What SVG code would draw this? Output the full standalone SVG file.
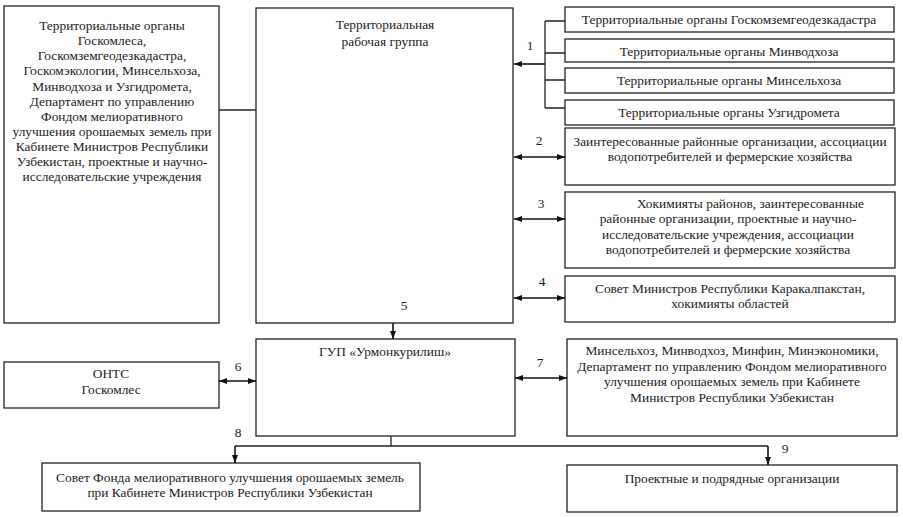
<svg xmlns="http://www.w3.org/2000/svg" width="903" height="517" viewBox="0 0 903 517">
<defs>
<style>
.box{fill:#fff;stroke:#222;stroke-width:1.3}
.ln{fill:none;stroke:#222;stroke-width:1.3}
.ar{fill:none;stroke:#111;stroke-width:1.6}
text{font-family:"Liberation Serif","Times New Roman",serif;font-size:13.4px;fill:#1a1a1a}
.c{text-anchor:middle}
</style>
<marker id="ah" viewBox="0 0 8 6" refX="8" refY="3" markerWidth="8" markerHeight="6" markerUnits="userSpaceOnUse" orient="auto-start-reverse">
<path d="M0,0 L8,3 L0,6 Z" fill="#111"/>
</marker>
</defs>
<rect width="903" height="517" fill="#fff"/>

<g id="left-orgs">
<rect class="box" x="4" y="6" width="215" height="317"/>
<text class="c" x="112" y="30">Территориальные органы</text>
<text class="c" x="112" y="45">Госкомлеса,</text>
<text class="c" x="112" y="60">Госкомземгеодезкадастра,</text>
<text class="c" x="112" y="75">Госкомэкологии, Минсельхоза,</text>
<text class="c" x="112" y="90.5">Минводхоза и Узгидромета,</text>
<text class="c" x="112" y="105.5">Департамент по управлению</text>
<text class="c" x="112" y="120.5">Фондом мелиоративного</text>
<text class="c" x="112" y="135.5">улучшения орошаемых земель при</text>
<text class="c" x="112" y="150.5">Кабинете Министров Республики</text>
<text class="c" x="112" y="166">Узбекистан, проектные и научно-</text>
<text class="c" x="112" y="181">исследовательские учреждения</text>
</g>

<g id="work-group">
<rect class="box" x="256" y="8" width="257" height="315"/>
<text class="c" x="385" y="29">Территориальная</text>
<text class="c" x="385" y="46">рабочая группа</text>
</g>

<g id="r1">
<rect class="box" x="565" y="7" width="329" height="25"/>
<text class="c" x="729" y="24">Территориальные органы Госкомземгеодезкадастра</text>
</g>
<g id="r2">
<rect class="box" x="565" y="39" width="329" height="23"/>
<text class="c" x="729" y="55.5">Территориальные органы Минводхоза</text>
</g>
<g id="r3">
<rect class="box" x="565" y="68" width="329" height="25"/>
<text class="c" x="729" y="84.5">Территориальные органы Минсельхоза</text>
</g>
<g id="r4">
<rect class="box" x="565" y="100" width="329" height="25"/>
<text class="c" x="729" y="116.5">Территориальные органы Узгидромета</text>
</g>

<g id="r5">
<rect class="box" x="565" y="128" width="330" height="57"/>
<text class="c" x="730" y="145.5">Заинтересованные районные организации, ассоциации</text>
<text class="c" x="730" y="160.5">водопотребителей и фермерские хозяйства</text>
</g>

<g id="r6">
<rect class="box" x="565" y="192" width="330" height="76"/>
<text x="637" y="207.5">Хокимияты районов, заинтересованные</text>
<text class="c" x="728" y="223">районные организации, проектные и научно-</text>
<text class="c" x="728" y="238.5">исследовательские учреждения, ассоциации</text>
<text class="c" x="728" y="253.5">водопотребителей и фермерские хозяйства</text>
</g>

<g id="r7">
<rect class="box" x="565" y="276" width="330" height="46"/>
<text class="c" x="730" y="292.5">Совет Министров Республики Каракалпакстан,</text>
<text class="c" x="730" y="307.5">хокимияты областей</text>
</g>

<g id="gup">
<rect class="box" x="256" y="339" width="259" height="97"/>
<text class="c" x="385" y="356">ГУП «Урмонкурилиш»</text>
</g>

<g id="onts">
<rect class="box" x="4" y="362" width="215" height="46"/>
<text class="c" x="111" y="377.5">ОНТС</text>
<text class="c" x="111" y="393.5">Госкомлес</text>
</g>

<g id="ministries">
<rect class="box" x="567" y="339" width="330" height="97"/>
<text class="c" x="732" y="355">Минсельхоз, Минводхоз, Минфин, Минэкономики,</text>
<text class="c" x="732" y="370.5">Департамент по управлению Фондом мелиоративного</text>
<text class="c" x="732" y="386">улучшения орошаемых земель при Кабинете</text>
<text class="c" x="732" y="401.5">Министров Республики Узбекистан</text>
</g>

<g id="fund-council">
<rect class="box" x="42" y="463" width="378" height="48"/>
<text class="c" x="230" y="481.5">Совет Фонда мелиоративного улучшения орошаемых земель</text>
<text class="c" x="230" y="496.5">при Кабинете Министров Республики Узбекистан</text>
</g>

<g id="contractors">
<rect class="box" x="567" y="465" width="330" height="47"/>
<text class="c" x="732" y="482.5">Проектные и подрядные организации</text>
</g>

<g id="connectors">
<path class="ln" d="M219 110 H256"/>
<path class="ln" d="M545 21 V108 M545 21 H565 M545 53 H565 M545 80 H565 M545 108 H565"/>
<path class="ar" d="M545 64 H514" marker-end="url(#ah)"/>
<path class="ar" d="M514 157 H565" marker-start="url(#ah)" marker-end="url(#ah)"/>
<path class="ar" d="M514 219 H565" marker-start="url(#ah)" marker-end="url(#ah)"/>
<path class="ar" d="M514 298 H565" marker-start="url(#ah)" marker-end="url(#ah)"/>
<path class="ar" d="M393 323 V339" marker-end="url(#ah)"/>
<path class="ar" d="M219 381 H256" marker-start="url(#ah)" marker-end="url(#ah)"/>
<path class="ar" d="M515 378 H567" marker-start="url(#ah)" marker-end="url(#ah)"/>
<path class="ln" d="M391 436 V446 M235 446 H768"/>
<path class="ar" d="M235 446 V463" marker-end="url(#ah)"/>
<path class="ar" d="M768 446 V465" marker-end="url(#ah)"/>
<text class="c" x="530" y="49.5">1</text>
<text class="c" x="539" y="145">2</text>
<text class="c" x="541" y="207.5">3</text>
<text class="c" x="542" y="285.5">4</text>
<text class="c" x="404" y="309.5">5</text>
<text class="c" x="238" y="370.5">6</text>
<text class="c" x="540" y="367">7</text>
<text class="c" x="238" y="437">8</text>
<text class="c" x="785" y="452.5">9</text>
</g>
</svg>
